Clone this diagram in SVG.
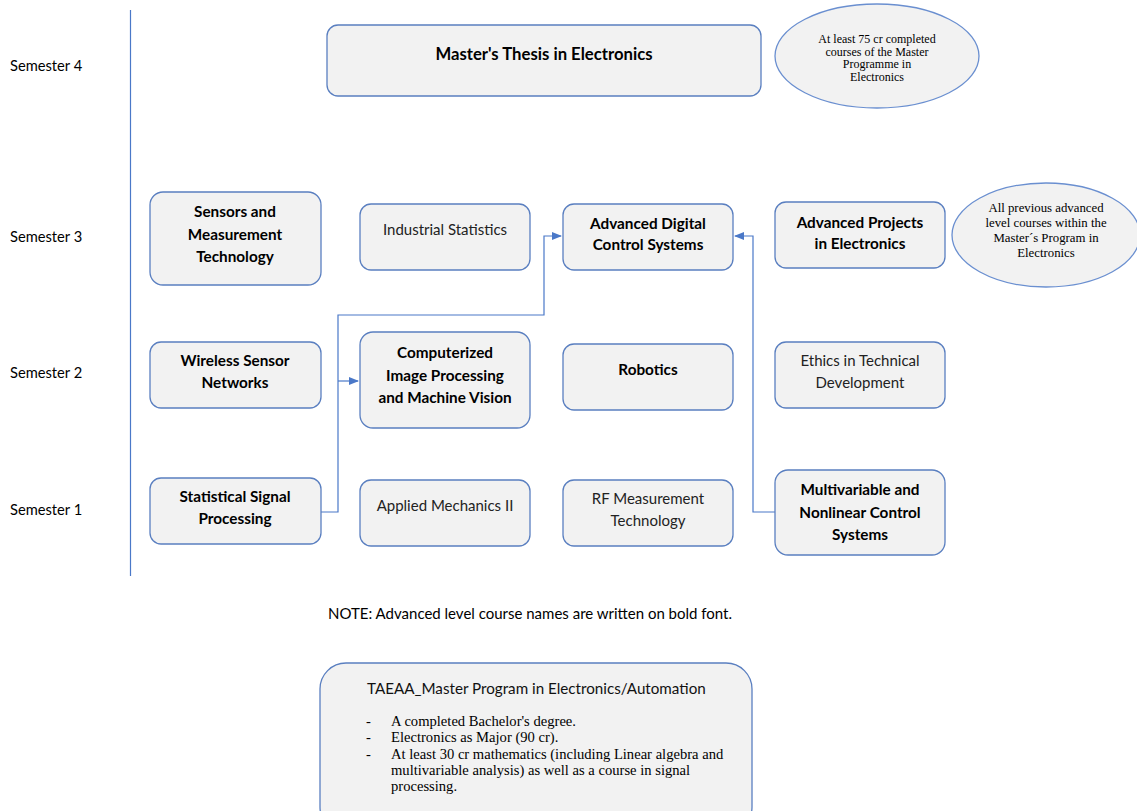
<svg xmlns="http://www.w3.org/2000/svg" width="1137" height="811" viewBox="0 0 1137 811">
<style>
.box{fill:#f2f2f2;stroke:#5a7fc0;stroke-width:1.3}
.ell{fill:#f2f2f2;stroke:#6a8fd0;stroke-width:1.3}
.b{font-family:Lato,"Open Sans",sans-serif;font-weight:bold;font-size:15.3px;fill:#000;text-anchor:middle}
.r{font-family:Lato,"Open Sans",sans-serif;font-size:15px;fill:#222;text-anchor:middle}
.sem{font-family:Lato,"Open Sans",sans-serif;font-size:14.7px;fill:#000}
.ser{font-family:"Liberation Serif",serif;font-size:12px;fill:#000;text-anchor:middle}
.ser2{font-family:"Liberation Serif",serif;font-size:14.6px;fill:#000}
.con{fill:none;stroke:#4a78c8;stroke-width:1.2}
</style>
<defs>
<marker id="arr" markerWidth="10" markerHeight="8" refX="9" refY="4" orient="auto" markerUnits="userSpaceOnUse">
<path d="M0,0 L10,4 L0,8 z" fill="#4a78c8"/>
</marker>
</defs>
<rect width="1137" height="811" fill="#fff"/>
<line x1="130.5" y1="10" x2="130.5" y2="576" stroke="#4a78c8" stroke-width="1.2"/>
<g id="semesters">
<text class="sem" x="10" y="71">Semester 4</text>
<text class="sem" x="10" y="242">Semester 3</text>
<text class="sem" x="10" y="378">Semester 2</text>
<text class="sem" x="10" y="515">Semester 1</text>
</g>
<g id="connectors">
<path class="con" d="M321,512 H338 V315 H544 V236 H561" marker-end="url(#arr)"/>
<path class="con" d="M338,381 H358" marker-end="url(#arr)"/>
<path class="con" d="M775,512 H753 V236 H735" marker-end="url(#arr)"/>
</g>
<g id="thesis">
<rect class="box" x="327" y="25" width="434" height="71" rx="11"/>
<text class="b" x="544" y="60" style="font-size:16.7px">Master's Thesis in Electronics</text>
</g>
<g id="req4">
<ellipse class="ell" cx="877" cy="56" rx="102" ry="52"/>
<text class="ser" x="877" y="43">At least 75 cr completed</text>
<text class="ser" x="877" y="56">courses of the Master</text>
<text class="ser" x="877" y="68">Programme in</text>
<text class="ser" x="877" y="81">Electronics</text>
</g>
<g id="req3">
<ellipse class="ell" cx="1046" cy="235" rx="94" ry="52"/>
<text class="ser" x="1046" y="212" style="font-size:12.8px">All previous advanced</text>
<text class="ser" x="1046" y="227" style="font-size:12.8px">level courses within the</text>
<text class="ser" x="1046" y="242" style="font-size:12.8px">Master´s Program in</text>
<text class="ser" x="1046" y="257" style="font-size:12.8px">Electronics</text>
</g>
<g id="sensors">
<rect class="box" x="150" y="192" width="171" height="93" rx="13"/>
<text class="b" x="235" y="217">Sensors and</text>
<text class="b" x="235" y="240">Measurement</text>
<text class="b" x="235" y="262">Technology</text>
</g>
<g id="indstat">
<rect class="box" x="360" y="204" width="170" height="66" rx="11"/>
<text class="r" x="445" y="235">Industrial Statistics</text>
</g>
<g id="adc">
<rect class="box" x="563" y="204" width="170" height="66" rx="11"/>
<text class="b" x="648" y="229">Advanced Digital</text>
<text class="b" x="648" y="250">Control Systems</text>
</g>
<g id="advproj">
<rect class="box" x="775" y="202" width="170" height="66" rx="11"/>
<text class="b" x="860" y="228">Advanced Projects</text>
<text class="b" x="860" y="249">in Electronics</text>
</g>
<g id="wsn">
<rect class="box" x="150" y="342" width="171" height="66" rx="11"/>
<text class="b" x="235" y="366">Wireless Sensor</text>
<text class="b" x="235" y="388">Networks</text>
</g>
<g id="cip">
<rect class="box" x="360" y="332" width="170" height="96" rx="13"/>
<text class="b" x="445" y="358">Computerized</text>
<text class="b" x="445" y="381">Image Processing</text>
<text class="b" x="445" y="403">and Machine Vision</text>
</g>
<g id="robotics">
<rect class="box" x="563" y="344" width="170" height="66" rx="11"/>
<text class="b" x="648" y="375">Robotics</text>
</g>
<g id="ethics">
<rect class="box" x="775" y="342" width="170" height="66" rx="11"/>
<text class="r" x="860" y="366">Ethics in Technical</text>
<text class="r" x="860" y="388">Development</text>
</g>
<g id="ssp">
<rect class="box" x="150" y="478" width="171" height="66" rx="11"/>
<text class="b" x="235" y="502">Statistical Signal</text>
<text class="b" x="235" y="524">Processing</text>
</g>
<g id="appmech">
<rect class="box" x="360" y="480" width="170" height="66" rx="11"/>
<text class="r" x="445" y="511">Applied Mechanics II</text>
</g>
<g id="rf">
<rect class="box" x="563" y="480" width="170" height="66" rx="11"/>
<text class="r" x="648" y="504">RF Measurement</text>
<text class="r" x="648" y="526">Technology</text>
</g>
<g id="mnc">
<rect class="box" x="775" y="470" width="170" height="85" rx="13"/>
<text class="b" x="860" y="495">Multivariable and</text>
<text class="b" x="860" y="518">Nonlinear Control</text>
<text class="b" x="860" y="540">Systems</text>
</g>
<g id="note">
<text x="328" y="619" style="font-family:Lato,'Open Sans',sans-serif;font-size:15px;fill:#000">NOTE: Advanced level course names are written on bold font.</text>
</g>
<g id="program">
<rect class="box" x="320" y="663" width="432" height="170" rx="26"/>
<text x="367" y="694" style="font-family:Lato,'Open Sans',sans-serif;font-size:15.2px;fill:#111">TAEAA_Master Program in Electronics/Automation</text>
<text class="ser2" x="366" y="726">-</text>
<text class="ser2" x="391" y="726">A completed Bachelor's degree.</text>
<text class="ser2" x="366" y="742">-</text>
<text class="ser2" x="391" y="742">Electronics as Major (90 cr).</text>
<text class="ser2" x="366" y="759">-</text>
<text class="ser2" x="391" y="759">At least 30 cr mathematics (including Linear algebra and</text>
<text class="ser2" x="391" y="775">multivariable analysis) as well as a course in signal</text>
<text class="ser2" x="391" y="791">processing.</text>
</g>
</svg>
